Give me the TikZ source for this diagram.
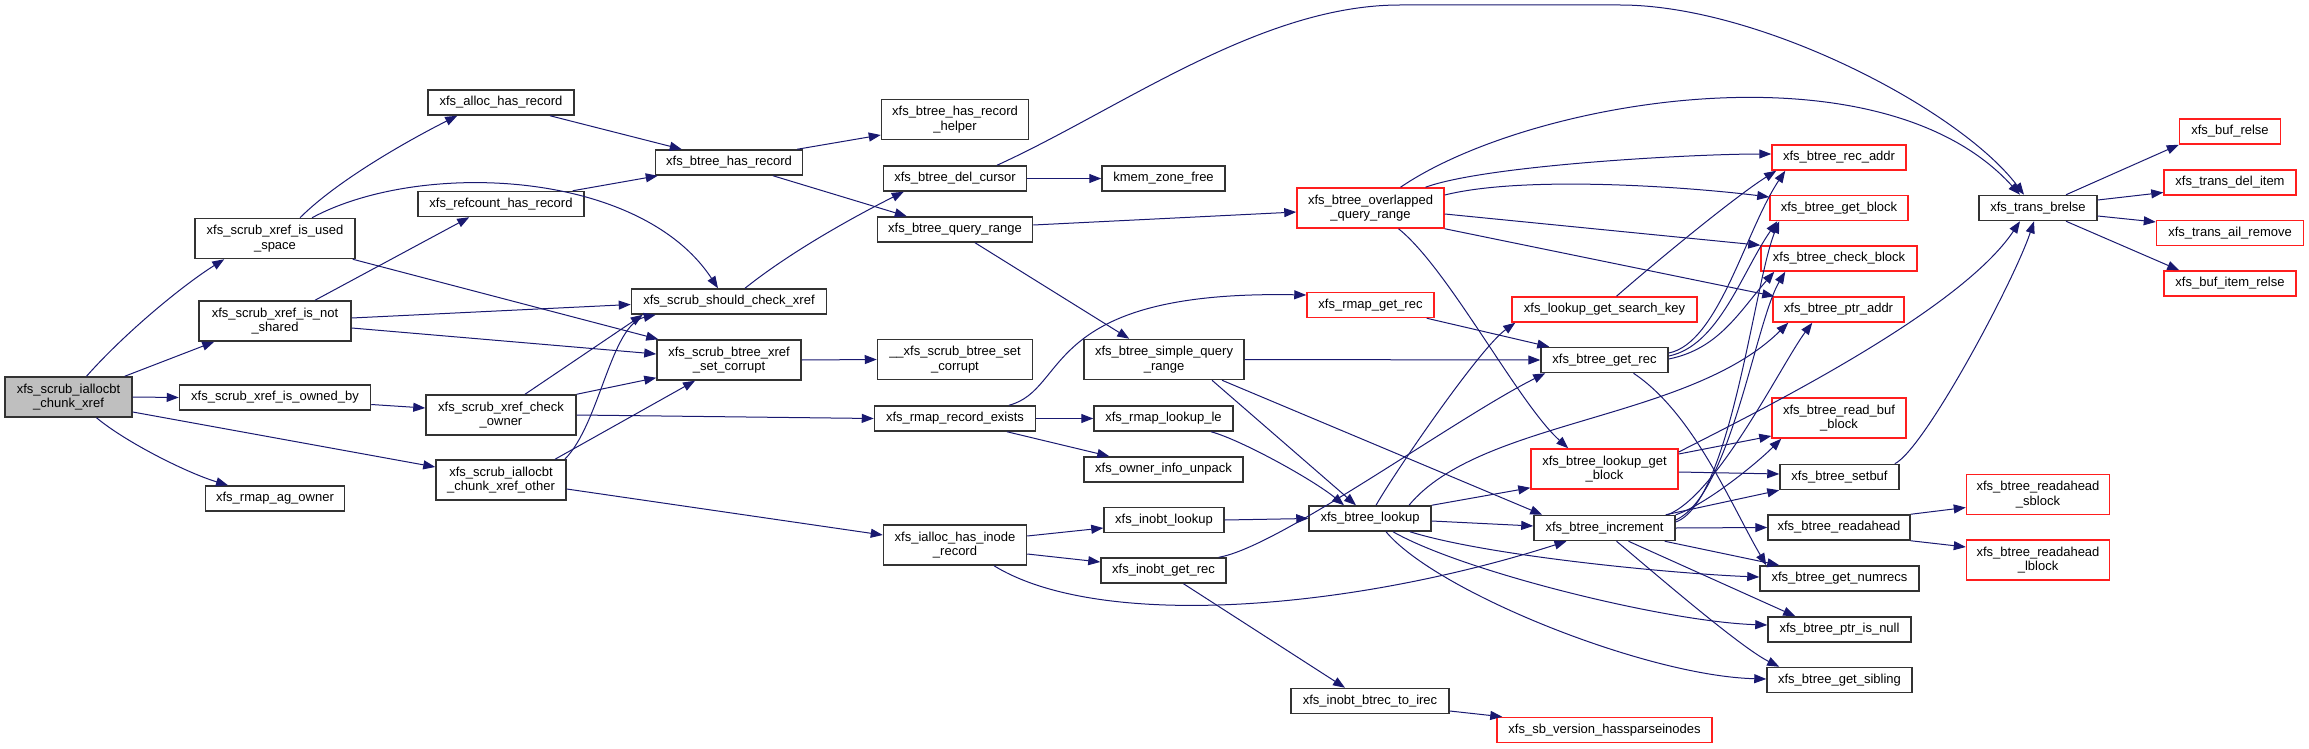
\documentclass[tikz,border=0pt]{standalone}
\usepackage{fontspec}
\setmainfont{Liberation Sans}
\usepackage{tikz}
\usetikzlibrary{arrows.meta}
\definecolor{edgeblue}{RGB}{25, 25, 112}
\definecolor{boxgrey}{RGB}{191, 191, 191}
\definecolor{boxred}{RGB}{255, 30, 30}

\begin{document}
\begin{tikzpicture}[x=1pt, y=-1pt,
    every node/.style={font=\fontsize{13}{14.7}\selectfont, inner sep=0pt, align=center},
    fn/.style={draw=black!80, line width=1.5pt, fill=white, minimum height=25pt},
    fntwo/.style={fn, minimum height=40pt},
    fnred/.style={draw=boxred},
    fnmain/.style={fill=boxgrey},
    call/.style={draw=edgeblue, line width=1pt, -{Triangle[length=12pt, width=9pt]}}]
    \useasboundingbox (0,0) rectangle (2309,749);

    \node[fntwo, fnmain, minimum width=127pt] (chunkxref) at (68.5,397) {xfs\_scrub\_iallocbt\\\_chunk\_xref};

    \node[fntwo, minimum width=160pt] (usedspace) at (275,238.5) {xfs\_scrub\_xref\_is\_used\\\_space};
    \node[fntwo, minimum width=152pt] (notshared) at (275,321) {xfs\_scrub\_xref\_is\_not\\\_shared};
    \node[fn, minimum width=191pt] (ownedby) at (275,397.5) {xfs\_scrub\_xref\_is\_owned\_by};
    \node[fn, minimum width=139pt] (agowner) at (275,498.5) {xfs\_rmap\_ag\_owner};

    \node[fn, minimum width=146pt] (allochas) at (501,102.5) {xfs\_alloc\_has\_record};
    \node[fn, minimum width=166pt] (refcounthas) at (501,204) {xfs\_refcount\_has\_record};
    \node[fntwo, minimum width=150pt] (checkowner) at (501,415) {xfs\_scrub\_xref\_check\\\_owner};
    \node[fntwo, minimum width=130pt] (xrefother) at (501,480) {xfs\_scrub\_iallocbt\\\_chunk\_xref\_other};

    \node[fn, minimum width=147pt] (btreehas) at (729,162.5) {xfs\_btree\_has\_record};
    \node[fn, minimum width=195pt] (shouldcheck) at (729,301.5) {xfs\_scrub\_should\_check\_xref};
    \node[fntwo, minimum width=144pt] (setcorrupt) at (729,360) {xfs\_scrub\_btree\_xref\\\_set\_corrupt};

    \node[fntwo, minimum width=147pt] (hashelper) at (955,119.5) {xfs\_btree\_has\_record\\\_helper};
    \node[fn, minimum width=143pt] (delcursor) at (955,178.5) {xfs\_btree\_del\_cursor};
    \node[fn, minimum width=155pt] (queryrange) at (955,229.5) {xfs\_btree\_query\_range};
    \node[fntwo, minimum width=155pt] (scrubsetcorrupt) at (955,359.5) {\_\_xfs\_scrub\_btree\_set\\\_corrupt};
    \node[fn, minimum width=161pt] (recordexists) at (955,418.5) {xfs\_rmap\_record\_exists};
    \node[fntwo, minimum width=143pt] (hasinode) at (955,545) {xfs\_ialloc\_has\_inode\\\_record};

    \node[fn, minimum width=123pt] (kmemfree) at (1163.5,178.5) {kmem\_zone\_free};
    \node[fntwo, minimum width=160pt] (simplequery) at (1164,359.5) {xfs\_btree\_simple\_query\\\_range};
    \node[fn, minimum width=139pt] (lookuple) at (1163.5,418.5) {xfs\_rmap\_lookup\_le};
    \node[fn, minimum width=159pt] (ownerunpack) at (1163.5,469.5) {xfs\_owner\_info\_unpack};
    \node[fn, minimum width=120pt] (inobtlookup) at (1164,520) {xfs\_inobt\_lookup};
    \node[fn, minimum width=125pt] (inobtgetrec) at (1163.5,570.5) {xfs\_inobt\_get\_rec};

    \node[fntwo, fnred, minimum width=147pt] (overlapped) at (1370.5,208) {xfs\_btree\_overlapped\\\_query\_range};
    \node[fn, fnred, minimum width=127pt] (rmapgetrec) at (1370.5,305) {xfs\_rmap\_get\_rec};
    \node[fn, minimum width=122pt] (btreelookup) at (1370,518.5) {xfs\_btree\_lookup};
    \node[fn, minimum width=158pt] (btrectoirec) at (1370,701) {xfs\_inobt\_btrec\_to\_irec};

    \node[fn, fnred, minimum width=185pt] (searchkey) at (1604.5,309.5) {xfs\_lookup\_get\_search\_key};
    \node[fn, minimum width=127pt] (getrec) at (1604.5,360) {xfs\_btree\_get\_rec};
    \node[fntwo, fnred, minimum width=147pt] (lookupgetblock) at (1604.5,469) {xfs\_btree\_lookup\_get\\\_block};
    \node[fn, minimum width=141pt] (increment) at (1604.5,528) {xfs\_btree\_increment};
    \node[fn, fnred, minimum width=215pt] (sparseinodes) at (1604.5,730) {xfs\_sb\_version\_hassparseinodes};

    \node[fn, fnred, minimum width=134pt] (recaddr) at (1839,157.5) {xfs\_btree\_rec\_addr};
    \node[fn, fnred, minimum width=138pt] (getblock) at (1839,208) {xfs\_btree\_get\_block};
    \node[fn, fnred, minimum width=156pt] (checkblock) at (1839,258.5) {xfs\_btree\_check\_block};
    \node[fn, fnred, minimum width=131pt] (ptraddr) at (1838.5,309.5) {xfs\_btree\_ptr\_addr};
    \node[fntwo, fnred, minimum width=134pt] (readbufblock) at (1839,418) {xfs\_btree\_read\_buf\\\_block};
    \node[fn, minimum width=119pt] (setbuf) at (1839.5,477) {xfs\_btree\_setbuf};
    \node[fn, minimum width=142pt] (readahead) at (1839,527.5) {xfs\_btree\_readahead};
    \node[fn, minimum width=159pt] (getnumrecs) at (1839.5,578.5) {xfs\_btree\_get\_numrecs};
    \node[fn, minimum width=143pt] (ptrisnull) at (1839.5,629.5) {xfs\_btree\_ptr\_is\_null};
    \node[fn, minimum width=145pt] (getsibling) at (1839.5,680) {xfs\_btree\_get\_sibling};

    \node[fn, minimum width=118pt] (transbrelse) at (2038,208) {xfs\_trans\_brelse};
    \node[fntwo, fnred, minimum width=143pt] (rasblock) at (2038,494.5) {xfs\_btree\_readahead\\\_sblock};
    \node[fntwo, fnred, minimum width=143pt] (ralblock) at (2038,560) {xfs\_btree\_readahead\\\_lblock};

    \node[fn, fnred, minimum width=101pt] (bufrelse) at (2230,131.5) {xfs\_buf\_relse};
    \node[fn, fnred, minimum width=132pt] (transdelitem) at (2230,182.5) {xfs\_trans\_del\_item};
    \node[fn, fnred, minimum width=147pt] (ailremove) at (2230,233) {xfs\_trans\_ail\_remove};
    \node[fn, fnred, minimum width=132pt] (bufitemrelse) at (2230,283.5) {xfs\_buf\_item\_relse};

    \draw[call] ([xshift=18pt]chunkxref.north) .. controls +(40,-45) and +(-40,25) .. ([xshift=30pt]usedspace.south west);
    \draw[call] ([xshift=-8pt]chunkxref.north east) -- ([xshift=16pt]notshared.south west);
    \draw[call] (chunkxref.east) -- (ownedby.west);
    \draw[call] ([yshift=-15pt]chunkxref.east) -- ([yshift=13pt]xrefother.west);
    \draw[call] ([xshift=28pt]chunkxref.south) .. controls +(30,25) and +(-40,-12) .. ([xshift=-47pt]agowner.north);

    \draw[call] ([xshift=25pt]usedspace.north) .. controls +(40,-40) and +(-40,20) .. ([xshift=30pt]allochas.south west);
    \draw[call] ([xshift=37pt]usedspace.north) .. controls +(108,-58) and +(-78,-119) .. ([xshift=-11pt]shouldcheck.north);
    \draw[call] ([xshift=-3pt]usedspace.south east) -- ([xshift=2pt]setcorrupt.north west);
    \draw[call] ([xshift=40pt]notshared.north) -- ([xshift=52pt]refcounthas.south west);
    \draw[call] ([yshift=3pt]notshared.east) -- ([yshift=-3pt]shouldcheck.west);
    \draw[call] ([yshift=-7pt]notshared.east) -- ([yshift=6pt]setcorrupt.west);
    \draw[call] ([yshift=-7pt]ownedby.east) -- ([yshift=7pt]checkowner.west);

    \draw[call] ([xshift=49pt]allochas.south) -- ([xshift=27pt]btreehas.north west);
    \draw[call] ([xshift=-12pt]refcounthas.north east) -- ([xshift=3pt]btreehas.south west);
    \draw[call] ([xshift=24pt]checkowner.north) -- ([xshift=12pt]shouldcheck.south west);
    \draw[call] (checkowner.north east) -- ([yshift=3pt]setcorrupt.south west);
    \draw[call] (checkowner.east) -- (recordexists.west);
    \draw[call] ([xshift=-2pt]xrefother.north east) .. controls +(35,-35) and +(-45,10) .. ([xshift=25pt]shouldcheck.south west);
    \draw[call] ([xshift=54pt]xrefother.north) -- ([xshift=-34pt]setcorrupt.south);
    \draw[call] ([yshift=-9pt]xrefother.east) -- ([yshift=10pt]hasinode.west);

    \draw[call] ([xshift=-6pt]btreehas.north east) -- ([yshift=-15.5pt]hashelper.west);
    \draw[call] ([xshift=44pt]btreehas.south) -- ([xshift=30pt]queryrange.north west);
    \draw[call] ([xshift=16pt]shouldcheck.north) .. controls +(50,-40) and +(-40,20) .. ([xshift=21pt]delcursor.south west);
    \draw[call] (setcorrupt.east) -- (scrubsetcorrupt.west);

    \draw[call] (delcursor.east) -- (kmemfree.west);
    \draw[call] ([xshift=42pt]delcursor.north) .. controls +(123,-56) and +(-140,0) .. (1400,5) -- (1620,5) .. controls +(140,0) and +(-64,-85) .. ([xshift=-14pt]transbrelse.north);
    \draw[call] ([yshift=4.5pt]queryrange.east) -- ([yshift=-4pt]overlapped.west);
    \draw[call] ([xshift=20pt]queryrange.south) -- ([xshift=46pt]simplequery.north west);
    \draw[call] ([xshift=54pt]recordexists.north) .. controls +(61,-16) and +(-267,-5) .. ([yshift=10pt]rmapgetrec.west);
    \draw[call] (recordexists.east) -- (lookuple.west);
    \draw[call] ([xshift=52pt]recordexists.south) -- ([xshift=26pt]ownerunpack.north west);
    \draw[call] ([yshift=9pt]hasinode.east) -- ([yshift=-8pt]inobtlookup.west);
    \draw[call] ([yshift=-9pt]hasinode.east) -- ([yshift=8.5pt]inobtgetrec.west);
    \draw[call] ([xshift=39pt]hasinode.south) .. controls +(106,65) and +(-216,69) .. ([xshift=-38pt]increment.south);

    \draw[call] (simplequery.east) -- (getrec.west);
    \draw[call] ([xshift=48pt]simplequery.south) -- ([xshift=-14pt]btreelookup.north);
    \draw[call] ([xshift=58pt]simplequery.south) -- ([xshift=9pt]increment.north west);
    \draw[call] ([xshift=47.5pt]lookuple.south) .. controls +(30,8) and +(-30,-25) .. ([xshift=-26pt]btreelookup.north);
    \draw[call] (inobtlookup.east) -- (btreelookup.west);
    \draw[call] ([xshift=-8pt]inobtgetrec.north east) .. controls +(60,-10) and +(-90,45) .. ([xshift=5pt]getrec.south west);
    \draw[call] ([xshift=20pt]inobtgetrec.south) -- ([xshift=-25pt]btrectoirec.north);

    \draw[call] ([xshift=30pt]overlapped.north) .. controls +(129,-88) and +(-140,-155) .. ([xshift=-18pt]transbrelse.north);
    \draw[call] ([xshift=55pt]overlapped.north) .. controls +(60,-22) and +(-80,0) .. ([yshift=3.5pt]recaddr.west);
    \draw[call] ([yshift=13pt]overlapped.east) .. controls +(80,-20) and +(-80,-10) .. ([yshift=11pt]getblock.west);
    \draw[call] ([yshift=-6pt]overlapped.east) -- (checkblock.north west);
    \draw[call] (overlapped.south east) -- ([xshift=2pt]ptraddr.north west);
    \draw[call] ([xshift=28pt]overlapped.south) .. controls +(50,40) and +(-50,-45) .. ([xshift=38pt]lookupgetblock.north west);
    \draw[call] ([xshift=-8pt]rmapgetrec.south east) -- ([xshift=9pt]getrec.north west);
    \draw[call] ([yshift=-10pt]btrectoirec.east) -- ([xshift=6pt]sparseinodes.north west);

    \draw[call] ([xshift=6pt]btreelookup.north) .. controls +(20,-35) and +(-35,25) .. ([xshift=4pt]searchkey.south west);
    \draw[call] ([xshift=39pt]btreelookup.north) .. controls +(71,-86) and +(-99,98) .. ([xshift=16pt]ptraddr.south west);
    \draw[call] (btreelookup.north east) -- ([yshift=2pt]lookupgetblock.south west);
    \draw[call] ([yshift=-2.5pt]btreelookup.east) -- ([yshift=2pt]increment.west);
    \draw[call] ([xshift=40pt]btreelookup.south) .. controls +(80,25) and +(-80,-3) .. ([yshift=1.5pt]getnumrecs.west);
    \draw[call] ([xshift=23pt]btreelookup.south) .. controls +(70,40) and +(-100,-3) .. ([yshift=4.5pt]ptrisnull.west);
    \draw[call] ([xshift=16pt]btreelookup.south) .. controls +(50,60) and +(-120,-3) .. ([yshift=1pt]getsibling.west);

    \draw[call] ([xshift=12pt]searchkey.north) .. controls +(40,-35) and +(-40,25) .. ([xshift=5pt]recaddr.south west);
    \draw[call] ([yshift=7pt]getrec.east) .. controls +(50,-10) and +(-40,60) .. ([xshift=14pt]recaddr.south west);
    \draw[call] ([yshift=4pt]getrec.east) .. controls +(50,-10) and +(-35,50) .. ([xshift=8pt]getblock.south west);
    \draw[call] ([yshift=1pt]getrec.east) .. controls +(50,-10) and +(-35,40) .. ([xshift=14pt]checkblock.south west);
    \draw[call] ([xshift=29pt]getrec.south) .. controls +(60,40) and +(-35,-60) .. ([xshift=7pt]getnumrecs.north west);

    \draw[call] ([yshift=15pt]lookupgetblock.east) -- ([yshift=-18pt]readbufblock.west);
    \draw[call] ([yshift=-3pt]lookupgetblock.east) -- ([yshift=3pt]setbuf.west);
    \draw[call] ([yshift=17pt]lookupgetblock.east) .. controls +(82,-42) and +(-60,90) .. ([xshift=-18pt]transbrelse.south);

    \draw[call] ([xshift=-8pt]increment.north east) .. controls +(50,-20) and +(-30,40) .. ([xshift=40pt]ptraddr.south west);
    \draw[call] ([yshift=6pt]increment.east) .. controls +(55,-20) and +(-25,60) .. ([xshift=10pt]getblock.south west);
    \draw[call] ([yshift=8pt]increment.east) .. controls +(55,-25) and +(-30,50) .. ([xshift=25pt]checkblock.south west);
    \draw[call] (increment.north east) .. controls +(30,-10) and +(-25,25) .. ([xshift=10pt]readbufblock.south west);
    \draw[call] ([xshift=-10pt]increment.north east) -- (setbuf.south west);
    \draw[call] (increment.east) -- (readahead.west);
    \draw[call] ([xshift=-11pt]increment.south east) -- ([xshift=20pt]getnumrecs.north west);
    \draw[call] ([xshift=24pt]increment.south) -- ([xshift=28pt]ptrisnull.north west);
    \draw[call] ([xshift=12pt]increment.south) .. controls +(30,25) and +(-40,-20) .. ([xshift=13pt]getsibling.north west);

    \draw[call] ([xshift=-5pt]setbuf.north east) .. controls +(30,-15) and +(-20,60) .. ([xshift=-4pt]transbrelse.south);
    \draw[call] (readahead.north east) -- ([yshift=-13pt]rasblock.west);
    \draw[call] (readahead.south east) -- ([yshift=13pt]ralblock.west);

    \draw[call] ([xshift=28pt]transbrelse.north) -- (bufrelse.south west);
    \draw[call] ([yshift=8pt]transbrelse.east) -- ([yshift=-10pt]transdelitem.west);
    \draw[call] ([yshift=-8pt]transbrelse.east) -- ([yshift=11pt]ailremove.west);
    \draw[call] ([xshift=28pt]transbrelse.south) -- ([xshift=16pt]bufitemrelse.north west);
\end{tikzpicture}
\end{document}
